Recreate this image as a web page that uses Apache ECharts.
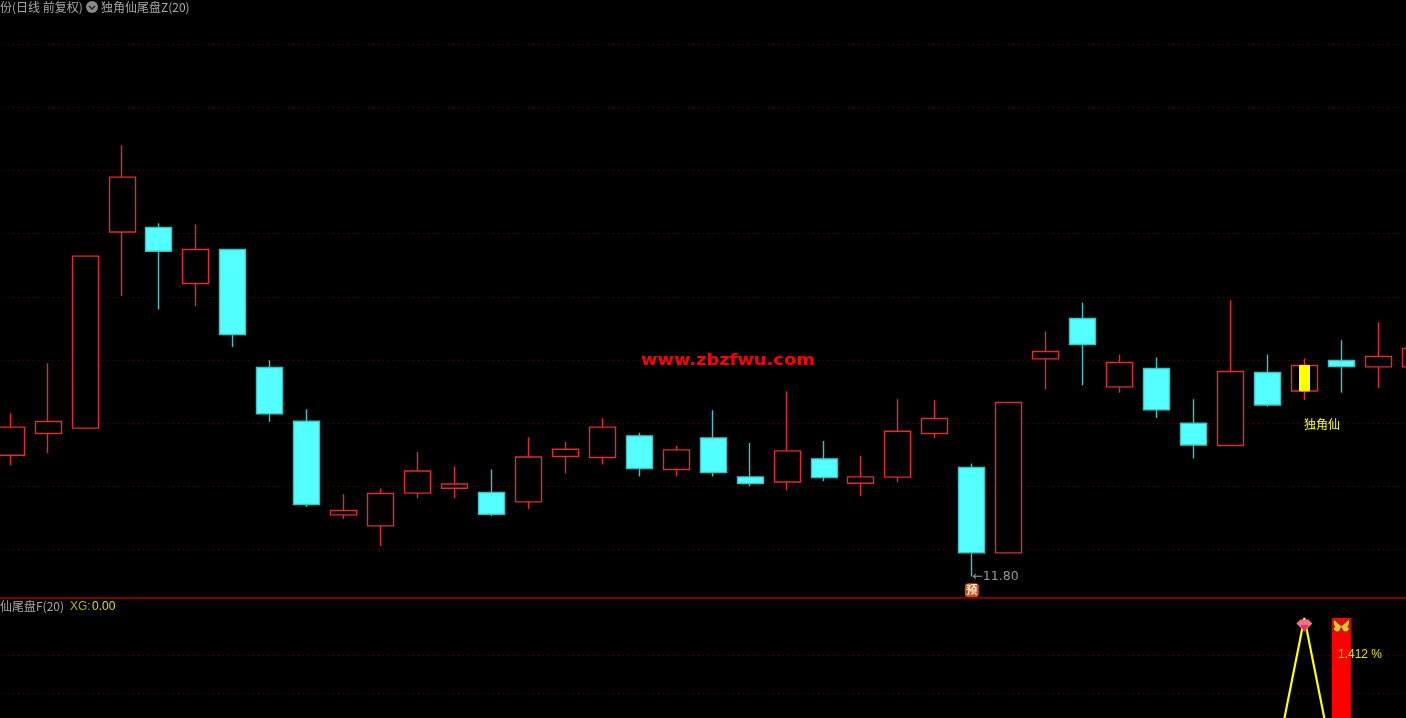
<!DOCTYPE html>
<html><head><meta charset="utf-8">
<style>html,body{margin:0;padding:0;background:#000;overflow:hidden}#c{width:1406px;height:718px}</style>
<script src="https://cdn.jsdelivr.net/npm/echarts@6/dist/echarts.min.js"></script>
</head><body><div id="c"></div>
<script>
const categories = ['01','02','03','04','05','06','07','08','09','10','11','12','13','14','15','16','17','18','19','20','21','22','23','24','25','26','27','28','29','30','31','32','33','34','35','36','37','38','39'];
const opens  = [12.745,12.917,12.959,14.514,14.549,14.105,14.375,13.440,13.014,12.272,12.185,12.444,12.483,12.449,12.375,12.735,12.727,12.898,12.632,12.882,12.573,12.533,12.716,12.523,12.571,12.917,12.647,11.971,13.508,13.828,13.286,13.432,12.998,12.822,13.400,13.254,13.495,13.445,13.445];
const closes = [12.967,13.012,14.322,14.948,14.361,14.375,13.701,13.072,12.354,12.307,12.441,12.620,12.517,12.277,12.731,12.792,12.967,12.639,12.787,12.608,12.521,12.779,12.568,12.573,12.935,13.036,11.971,13.162,13.567,13.622,13.479,13.104,12.826,13.408,13.143,13.456,13.448,13.527,13.590];
const lows   = [12.666,12.761,12.959,14.007,13.899,13.928,13.603,13.009,12.335,12.240,12.026,12.404,12.404,12.264,12.319,12.600,12.671,12.576,12.576,12.576,12.499,12.468,12.539,12.420,12.531,12.882,11.786,11.971,13.268,13.300,13.239,13.040,12.719,12.822,13.128,13.183,13.239,13.278,13.445];
const highs  = [13.078,13.474,14.322,15.201,14.583,14.573,14.375,13.498,13.109,12.436,12.481,12.771,12.655,12.632,12.887,12.850,13.038,12.922,12.819,13.101,12.842,13.252,12.858,12.739,13.189,13.181,12.679,13.162,13.725,13.952,13.543,13.519,13.189,13.973,13.543,13.511,13.656,13.799,13.590];
const signalIndex = 35;
const signalBody = [13.254,13.456];
const peakLine = [[34,-1.92],[35,3],[36,-1.92]];
const redBar = [[36,3]];
const lowLabel = '11.80';
const lowCoord = [26,11.786];
const preCoord = [26,11.675];

const font = '"Noto Sans CJK SC","Liberation Sans",sans-serif';
const gray = '#a8a8a8';
const txt = (x,y,text,fill,extra,own) => Object.assign({type:'text',left:x,top:y,z:100,silent:true,
  style:Object.assign({text:text,fill:fill,font:'12px '+font},extra||{})},own||{});

const chart = echarts.init(document.getElementById('c'),null,{renderer:'canvas'});
chart.setOption({
  animation:false,
  backgroundColor:'#000',
  grid:[
    {left:-7.3,width:1441,top:-18.7,height:631,containLabel:false,outerBoundsMode:'none'},
    {left:-7.3,width:1441,top:618,height:188.5,containLabel:false,outerBoundsMode:'none'}
  ],
  xAxis:[
    {gridIndex:0,type:'category',data:categories,axisLine:{show:false},axisTick:{show:false},axisLabel:{show:false},splitLine:{show:false}},
    {gridIndex:1,type:'category',data:categories,axisLine:{show:false},axisTick:{show:false},axisLabel:{show:false},splitLine:{show:false}}
  ],
  yAxis:[
    {gridIndex:0,type:'value',min:11.5,max:16.5,interval:0.5,axisLine:{show:false},axisTick:{show:false},axisLabel:{show:false},
     splitLine:{show:true,showMinLine:false,showMaxLine:false,lineStyle:{color:'#7c0000',type:[1,4],width:1}}},
    {gridIndex:1,type:'value',min:-2,max:3,interval:1,axisLine:{show:false},axisTick:{show:false},axisLabel:{show:false},
     splitLine:{show:true,showMinLine:false,showMaxLine:false,lineStyle:{color:'#7c0000',type:[1,4],width:1}}}
  ],
  series:[
    {type:'candlestick',xAxisIndex:0,yAxisIndex:0,barWidth:26.5,
     data:opens.map((o,i)=>[o,closes[i],lows[i],highs[i]]),
     itemStyle:{color:'#000',color0:'#54ffff',borderColor:'#e02c2c',borderColor0:'#3cc4c4',borderWidth:1.4},
     markPoint:{silent:true,animation:false,data:[
       {coord:lowCoord,symbol:'circle',symbolSize:1,itemStyle:{color:'#909090'},label:{show:true,position:'right',distance:0,offset:[0,1],formatter:'←'+lowLabel,color:'#989898',fontSize:12.5,fontFamily:'"DejaVu Sans",sans-serif'}},
       {coord:preCoord,symbol:'roundRect',symbolSize:[14,14],itemStyle:{color:'#c4521c'},label:{show:true,position:'inside',formatter:'预',color:'#ffe8d0',fontSize:11,fontWeight:'bold',fontFamily:font}}
     ]}},
    {type:'candlestick',xAxisIndex:0,yAxisIndex:0,barWidth:11,
     data:categories.map((c,i)=> i===signalIndex ? [signalBody[0],signalBody[1],signalBody[0],signalBody[1]] : '-'),
     itemStyle:{color:'#ffff00',color0:'#ffff00',borderColor:'#ffff00',borderColor0:'#ffff00',borderWidth:1}},
    {type:'bar',xAxisIndex:1,yAxisIndex:1,barWidth:19,data:redBar,itemStyle:{color:'#ff0000'},
     markPoint:{silent:true,animation:false,data:[
       {coord:[36,2.8],symbol:'path://M10 7 L2 1 Q0 5 3 8 L1 9 Q3 14 8 12 L10 9 L12 12 Q17 14 19 9 L17 8 Q20 5 18 1 Z',symbolSize:[17,13],
        itemStyle:{color:'#e8c030',borderColor:'#703000',borderWidth:1},label:{show:false}}
     ]}},
    {type:'line',xAxisIndex:1,yAxisIndex:1,data:peakLine,symbol:'none',clip:false,lineStyle:{color:'#ffff00',width:2.2},
     markPoint:{silent:true,animation:false,data:[
       {coord:[35,2.8],symbol:'path://M4 0 L12 0 L16 4 L8 12 L0 4 Z',symbolSize:[16,12],itemStyle:{color:'#f07088'},label:{show:false}},
       {coord:[35,2.72],symbol:'path://M0 0 L8 0 L4 6 Z',symbolSize:[8,7],itemStyle:{color:'#e83058'},label:{show:false}}
     ]}}
  ],
  graphic:[
    txt(0,1,'份(日线 前复权)',gray),
    {type:'circle',shape:{cx:92,cy:7,r:6},style:{fill:'#8a8a8a'},z:100,silent:true},
    {type:'polyline',shape:{points:[[89,6],[92,9],[95,6]]},style:{stroke:'#222',lineWidth:1.5,fill:null},z:101,silent:true},
    txt(101,1,'独角仙尾盘Z(20)',gray),
    txt(0,600,'仙尾盘F(20)',gray),
    txt(70,601,'XG:',  '#b0b000',{font:'12px "Liberation Sans",sans-serif'}),
    txt(92,601,'0.00','#e0e000',{font:'12px "Liberation Sans",sans-serif'}),
    txt(1304,418,'独角仙','#ffff00'),
    txt(641,353,'www.zbzfwu.com','#ff0000',{font:'bold 16px "DejaVu Sans",sans-serif'},{scaleX:1.115,originX:0}),
    txt(1338,649,'1.412 %','#e0e000',{font:'12px "Liberation Sans",sans-serif'}),
    {type:'rect',shape:{x:0,y:597,width:1406,height:2},style:{fill:'#780000'},z:90,silent:true}
  ]
});
</script></body></html>
